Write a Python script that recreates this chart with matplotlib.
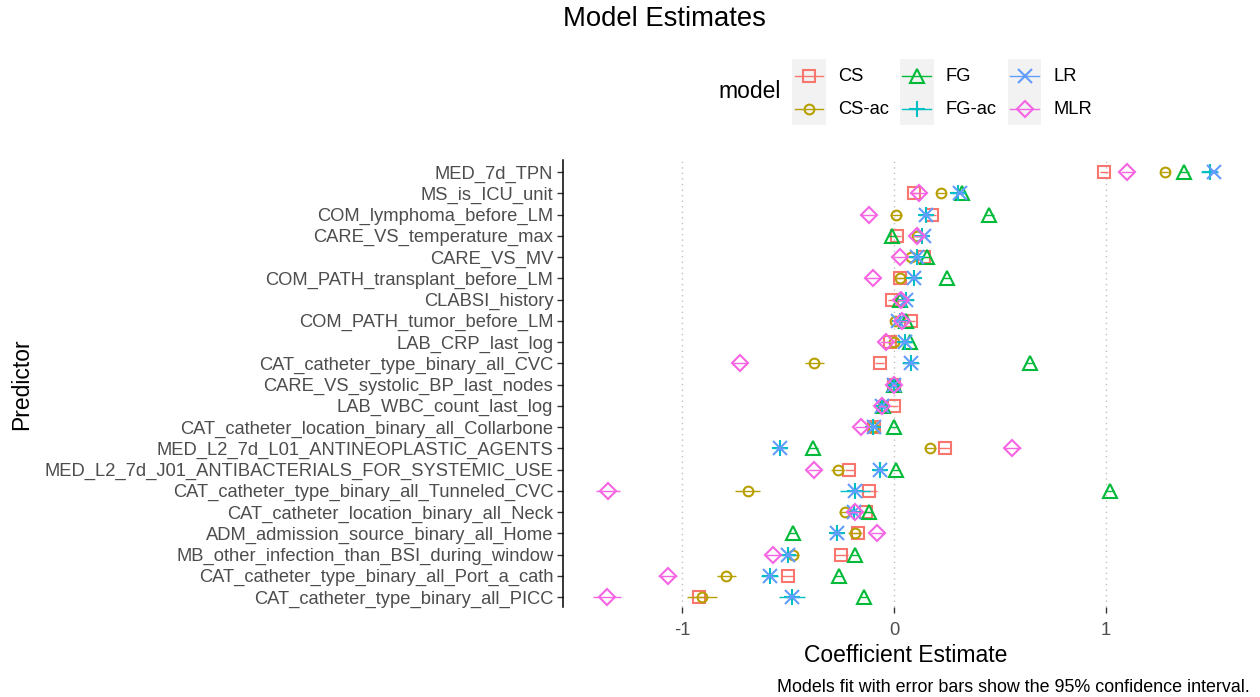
import numpy as np
import matplotlib
matplotlib.use("Agg")
import matplotlib.pyplot as plt
from matplotlib.lines import Line2D
from matplotlib.patches import Rectangle
from matplotlib.legend_handler import HandlerBase

plt.rcParams['font.family'] = ['Liberation Sans', 'DejaVu Sans']

predictors = [
    "MED_7d_TPN", "MS_is_ICU_unit", "COM_lymphoma_before_LM", "CARE_VS_temperature_max",
    "CARE_VS_MV", "COM_PATH_transplant_before_LM", "CLABSI_history", "COM_PATH_tumor_before_LM",
    "LAB_CRP_last_log", "CAT_catheter_type_binary_all_CVC", "CARE_VS_systolic_BP_last_nodes",
    "LAB_WBC_count_last_log", "CAT_catheter_location_binary_all_Collarbone",
    "MED_L2_7d_L01_ANTINEOPLASTIC_AGENTS", "MED_L2_7d_J01_ANTIBACTERIALS_FOR_SYSTEMIC_USE",
    "CAT_catheter_type_binary_all_Tunneled_CVC", "CAT_catheter_location_binary_all_Neck",
    "ADM_admission_source_binary_all_Home", "MB_other_infection_than_BSI_during_window",
    "CAT_catheter_type_binary_all_Port_a_cath", "CAT_catheter_type_binary_all_PICC",
]

models = ["CS", "CS-ac", "FG", "FG-ac", "LR", "MLR"]

cs = [0.99, 0.095, 0.18, 0.015, 0.14, 0.03, -0.01, 0.078, -0.02, -0.068, 0.0,
      0.0, -0.095, 0.24, -0.21, -0.117, -0.13, -0.17, -0.248, -0.502, -0.92]
cs_ac = [1.28, 0.22, 0.01, 0.11, 0.08, 0.03, 0.03, 0.005, 0.0, -0.375, -0.005,
         -0.05, -0.10, 0.17, -0.265, -0.69, -0.23, -0.186, -0.477, -0.79, -0.905]
fg = [1.37, 0.32, 0.45, -0.01, 0.155, 0.25, 0.03, 0.057, 0.075, 0.64, 0.0,
      -0.05, 0.0, -0.38, 0.01, 1.017, -0.117, -0.477, -0.184, -0.26, -0.142]
fg_ac = [1.49, 0.30, 0.15, 0.13, 0.11, 0.095, 0.055, 0.03, 0.05, 0.078, 0.0,
         -0.055, -0.10, -0.536, -0.068, -0.184, -0.19, -0.27, -0.50, -0.587, -0.48]
lr = [1.51, 0.31, 0.15, 0.14, 0.11, 0.095, 0.057, 0.02, 0.05, 0.078, 0.0,
      -0.057, -0.095, -0.536, -0.068, -0.184, -0.19, -0.27, -0.50, -0.587, -0.48]
mlr = [1.10, 0.12, -0.12, 0.11, 0.03, -0.10, 0.035, 0.04, -0.036, -0.727, 0.0,
       -0.057, -0.155, 0.557, -0.375, -1.35, -0.186, -0.078, -0.572, -1.066, -1.354]

# 95% CI half-widths
cs_err = [0.02, 0.02, 0.02, 0.02, 0.02, 0.02, 0.02, 0.02, 0.02, 0.02, 0.01,
          0.02, 0.02, 0.03, 0.02, 0.035, 0.02, 0.02, 0.03, 0.03, 0.035]
cs_ac_err = [0.02, 0.02, 0.03, 0.02, 0.02, 0.02, 0.02, 0.02, 0.02, 0.045, 0.01,
             0.02, 0.02, 0.03, 0.03, 0.058, 0.03, 0.03, 0.03, 0.045, 0.07]
fg_err = [0.02, 0.02, 0.02, 0.02, 0.02, 0.02, 0.02, 0.02, 0.02, 0.02, 0.01,
          0.02, 0.02, 0.02, 0.02, 0.02, 0.02, 0.02, 0.02, 0.02, 0.02]
fg_ac_err = [0.04, 0.03, 0.03, 0.03, 0.03, 0.03, 0.04, 0.03, 0.03, 0.04, 0.01,
             0.03, 0.03, 0.03, 0.03, 0.07, 0.03, 0.03, 0.04, 0.04, 0.06]
lr_err = [0.02, 0.02, 0.02, 0.02, 0.02, 0.02, 0.02, 0.02, 0.02, 0.03, 0.01,
          0.02, 0.02, 0.02, 0.02, 0.03, 0.02, 0.02, 0.02, 0.02, 0.03]
mlr_err = [0.03, 0.03, 0.04, 0.02, 0.03, 0.04, 0.02, 0.02, 0.03, 0.04, 0.01,
           0.02, 0.03, 0.04, 0.03, 0.056, 0.03, 0.03, 0.04, 0.045, 0.066]

values = [cs, cs_ac, fg, fg_ac, lr, mlr]
errors = [cs_err, cs_ac_err, fg_err, fg_ac_err, lr_err, mlr_err]

colors = ["#F8766D", "#B79F00", "#00BA38", "#00BFC4", "#619CFF", "#F564E3"]
markers = ["s", "o", "^", "+", "x", "D"]
msizes = [9.0, 7.0, 10.0, 11.5, 9.5, 8.5]

x_ticks = [-1, 0, 1]
x_ticklabels = ["-1", "0", "1"]

W, H = 1260, 697
fig = plt.figure(figsize=(W / 100, H / 100), dpi=100)
ax = fig.add_axes([563 / W, 1 - 607 / H, (1250 - 563) / W, (607 - 160) / H])

n = len(predictors)
ypos = np.arange(n)

for vals, errs, c, m, ms, z in zip(values, errors, colors, markers, msizes, range(len(models))):
    ax.errorbar(vals, ypos, xerr=errs, fmt=m, color=c, mfc='none', mec=c, ms=ms,
                mew=1.5, elinewidth=1.0, capsize=0, zorder=3 + z)

ax.set_xlim(-1.561, 1.679)
ax.set_ylim(n - 1 + 0.47, -0.565)
ax.set_yticks(ypos)
ax.set_yticklabels(predictors, fontsize=13.2, color="#4D4D4D")
ax.set_xticks(x_ticks)
ax.set_xticklabels(x_ticklabels, fontsize=13.2, color="#4D4D4D")
ax.tick_params(axis='y', length=4, width=1, color='#333333', pad=3)
ax.tick_params(axis='x', length=4, width=1, color='#333333', pad=7)
for x in x_ticks:
    ax.axvline(x, color='#C0C0C0', lw=1, ls=(0, (1, 3)), zorder=1)
for s in ['top', 'right', 'bottom']:
    ax.spines[s].set_visible(False)
ax.spines['left'].set_color('black')
ax.spines['left'].set_linewidth(1.1)
ax.set_facecolor('white')

fig.text(563 / W, 1 - 19 / H, "Model Estimates", fontsize=19.8, ha='left', va='center')
fig.text(1250 / W, 1 - 687 / H, "Models fit with error bars show the 95% confidence interval.",
         fontsize=12.9, ha='right', va='center')
fig.text(906 / W, 1 - 655 / H, "Coefficient Estimate", fontsize=16.5, ha='center', va='center')
fig.text(22 / W, 1 - 384 / H, "Predictor", fontsize=16.5, rotation=90, ha='center', va='center')


class KeyHandler(HandlerBase):
    def create_artists(self, legend, orig_handle, xdescent, ydescent, width, height, fontsize, trans):
        rect = Rectangle((-xdescent, -ydescent), width, height, facecolor='#F2F2F2',
                         edgecolor='none', transform=trans)
        cy = height / 2 - ydescent
        line = Line2D([-xdescent + 2, width - xdescent - 2], [cy, cy], color=orig_handle.get_color(),
                      lw=1.0, transform=trans)
        mk = Line2D([width / 2 - xdescent], [cy], marker=orig_handle.get_marker(),
                    ms=orig_handle.get_markersize(), mfc='none', mec=orig_handle.get_color(),
                    mew=1.5, ls='none', transform=trans)
        return [rect, line, mk]


handles = [Line2D([], [], color=c, marker=m, ms=ms, mfc='none') for c, m, ms in zip(colors, markers, msizes)]
leg = fig.legend(handles, models, loc='upper left', bbox_to_anchor=(792 / W, 1 - 59 / H),
                 ncol=3, frameon=False, fontsize=13.2, borderpad=0, borderaxespad=0,
                 handlelength=1.85, handleheight=2.4, labelspacing=0.0, handletextpad=0.65,
                 columnspacing=0.6, handler_map={Line2D: KeyHandler()})
fig.text(718 / W, 1 - 92 / H, "model", fontsize=16.5, ha='left', va='center')

fig.savefig("out.png", dpi=100)
